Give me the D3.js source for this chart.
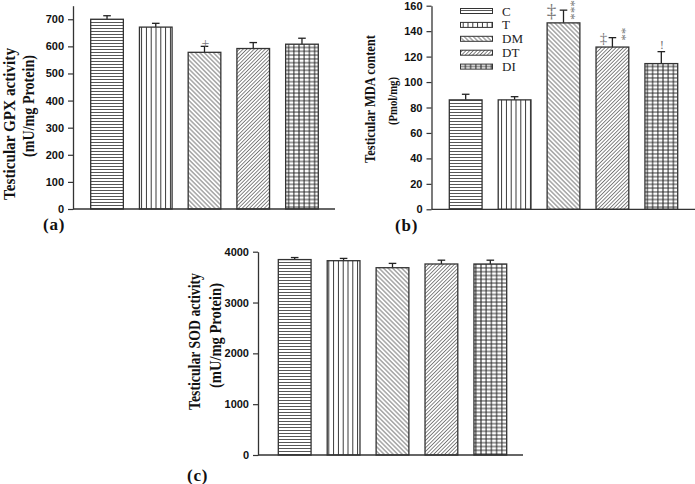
<!DOCTYPE html>
<html>
<head>
<meta charset="utf-8">
<title>Testicular GPX / MDA / SOD</title>
<style>
  body { margin: 0; background: #fff; }
  svg { display: block; }
</style>
</head>
<body>
<main></main>
<script src="https://cdn.jsdelivr.net/npm/d3@7"></script>
<script>
// groups
var groups = ["C", "T", "DM", "DT", "DI"];

// (a) GPX, mU/mg protein
var gpxMean = [700, 671, 578, 592, 608];
var gpxSem = [13, 14, 22, 22, 22];
var gpxTicks = [0, 100, 200, 300, 400, 500, 600, 700];

// (b) MDA, Pmol/mg
var mdaMean = [86, 86, 146.5, 127.5, 114.5];
var mdaSem = [4.4, 2.5, 10, 7.4, 9.4];
var mdaTicks = [0, 20, 40, 60, 80, 100, 120, 140, 160];

// (c) SOD, mU/mg protein
var sodMean = [3845, 3823, 3685, 3758, 3758];
var sodSem = [40, 45, 85, 75, 75];
var sodTicks = [0, 1000, 2000, 3000, 4000];

var width = 695, height = 484;
var svg = d3.select("main").append("svg")
    .attr("width", width).attr("height", height);

var serif = "'Liberation Serif', 'Times New Roman', serif";

// hatch patterns, one per group
var defs = svg.append("defs");
function pattern(id, w, h, rotate) {
    var p = defs.append("pattern")
        .attr("id", id)
        .attr("patternUnits", "userSpaceOnUse")
        .attr("width", w).attr("height", h);
    if (rotate) p.attr("patternTransform", "rotate(" + rotate + ")");
    return p;
}
pattern("pat-C", 10, 3).append("line")
    .attr("x1", 0).attr("x2", 10).attr("y1", 1.5).attr("y2", 1.5)
    .attr("stroke", "#444").attr("stroke-width", 0.9);
pattern("pat-T", 4.8, 10).append("line")
    .attr("x1", 2.4).attr("x2", 2.4).attr("y1", 0).attr("y2", 10)
    .attr("stroke", "#333").attr("stroke-width", 1);
pattern("pat-DM", 3.2, 10, -45).append("line")
    .attr("x1", 1.6).attr("x2", 1.6).attr("y1", 0).attr("y2", 10)
    .attr("stroke", "#444").attr("stroke-width", 0.8);
pattern("pat-DT", 2.6, 10, 45).append("line")
    .attr("x1", 1.3).attr("x2", 1.3).attr("y1", 0).attr("y2", 10)
    .attr("stroke", "#444").attr("stroke-width", 0.7);
var pdi = pattern("pat-DI", 5.2, 3.8);
pdi.append("line").attr("x1", 2.6).attr("x2", 2.6).attr("y1", 0).attr("y2", 3.8)
    .attr("stroke", "#222").attr("stroke-width", 1);
pdi.append("line").attr("x1", 0).attr("x2", 5.2).attr("y1", 1.9).attr("y2", 1.9)
    .attr("stroke", "#222").attr("stroke-width", 0.9);

function drawPanel(cfg) {
    var g = svg.append("g");

    var x = d3.scaleBand()
        .domain(groups)
        .range(cfg.bars)
        .paddingInner(0.33)
        .paddingOuter(0);

    var y = d3.scaleLinear()
        .domain([0, cfg.yMax])
        .range([cfg.y0, cfg.yTop]);

    // y axis
    var axis = d3.axisLeft(y)
        .tickValues(cfg.ticks)
        .tickFormat(d3.format("d"))
        .tickSize(5)
        .tickSizeOuter(0)
        .tickPadding(4);
    var ga = g.append("g")
        .attr("transform", "translate(" + cfg.axisX + ",0)")
        .call(axis);
    ga.select(".domain").attr("stroke", "#333").attr("stroke-width", 1.3);
    ga.selectAll(".tick line").attr("stroke", "#333").attr("stroke-width", 1.2);
    ga.selectAll(".tick text")
        .attr("fill", "#111")
        .attr("font-family", "'Liberation Sans', Arial, sans-serif")
        .attr("font-weight", "bold")
        .attr("font-size", 11);

    // x baseline
    g.append("line")
        .attr("x1", cfg.axisX).attr("x2", cfg.axisEnd)
        .attr("y1", y(0)).attr("y2", y(0))
        .attr("stroke", "#333").attr("stroke-width", 1.3);

    var data = groups.map(function (k, i) {
        return { key: k, mean: cfg.mean[i], sem: cfg.sem[i] };
    });

    // error bars (behind the bars)
    var eb = g.selectAll(".err").data(data).enter().append("g");
    eb.append("line")
        .attr("x1", function (d) { return x(d.key) + x.bandwidth() / 2; })
        .attr("x2", function (d) { return x(d.key) + x.bandwidth() / 2; })
        .attr("y1", function (d) { return y(d.mean); })
        .attr("y2", function (d) { return y(d.mean + d.sem); })
        .attr("stroke", "#222").attr("stroke-width", 1.3);
    eb.append("line")
        .attr("x1", function (d) { return x(d.key) + x.bandwidth() / 2 - 3.8; })
        .attr("x2", function (d) { return x(d.key) + x.bandwidth() / 2 + 3.8; })
        .attr("y1", function (d) { return y(d.mean + d.sem); })
        .attr("y2", function (d) { return y(d.mean + d.sem); })
        .attr("stroke", "#222").attr("stroke-width", 1.3);

    // bars
    g.selectAll(".bar").data(data).enter().append("rect")
        .attr("x", function (d) { return x(d.key); })
        .attr("y", function (d) { return y(d.mean); })
        .attr("width", x.bandwidth())
        .attr("height", function (d) { return y(0) - y(d.mean); })
        .attr("fill", function (d) { return "url(#pat-" + d.key + ")"; })
        .attr("stroke", "#333").attr("stroke-width", 1.3);

    // y title, two rotated lines
    cfg.title.forEach(function (t) {
        g.append("text")
            .attr("transform", "translate(" + t.x + "," + t.y + ") rotate(-90)")
            .attr("text-anchor", "middle")
            .attr("textLength", t.len)
            .attr("lengthAdjust", "spacingAndGlyphs")
            .attr("fill", "#111")
            .style("font-family", serif)
            .style("font-weight", "bold")
            .style("font-size", t.size + "px")
            .text(t.text);
    });

    // panel letter
    g.append("text")
        .attr("x", cfg.letter[0]).attr("y", cfg.letter[1])
        .attr("fill", "#111")
        .style("font-family", serif)
        .style("font-weight", "bold")
        .style("font-size", "17px")
        .style("letter-spacing", "0.8px")
        .text(cfg.letterText);

    return { x: x, y: y, g: g, data: data };
}

var pa = drawPanel({
    mean: gpxMean, sem: gpxSem, ticks: gpxTicks,
    yMax: 750, y0: 209, yTop: 5.7,
    axisX: 73, axisEnd: 335, bars: [90.7, 318.3],
    title: [
        { text: "Testicular GPX activity", x: 15, y: 124, len: 152, size: 17 },
        { text: "(mU/mg Protein)", x: 34, y: 106, len: 102, size: 17 }
    ],
    letter: [43, 230], letterText: "(a)"
});

var pb = drawPanel({
    mean: mdaMean, sem: mdaSem, ticks: mdaTicks,
    yMax: 160, y0: 209.3, yTop: 5.7,
    axisX: 431.5, axisEnd: 695, bars: [449.3, 677.7],
    title: [
        { text: "Testicular MDA content", x: 375, y: 99, len: 128, size: 15 },
        { text: "(Pmol/mg)", x: 396.5, y: 101, len: 48, size: 13 }
    ],
    letter: [395, 230.5], letterText: "(b)"
});

var pc = drawPanel({
    mean: sodMean, sem: sodSem, ticks: sodTicks,
    yMax: 4000, y0: 455, yTop: 251.7,
    axisX: 258, axisEnd: 523, bars: [278.3, 506.7],
    title: [
        { text: "Testicular SOD activity", x: 200, y: 341.5, len: 137, size: 16 },
        { text: "(mU/mg Protein)", x: 220.5, y: 335.5, len: 105, size: 16 }
    ],
    letter: [187, 481], letterText: "(c)"
});

// significance marks, placed relative to the top of each error bar
function mark(p, key, s, dx, dy, size) {
    var d = p.data[groups.indexOf(key)];
    p.g.append("text")
        .attr("x", p.x(key) + p.x.bandwidth() / 2 + dx)
        .attr("y", p.y(d.mean + d.sem) + dy)
        .attr("text-anchor", "middle")
        .attr("fill", "#777")
        .style("font-family", serif)
        .style("font-size", size + "px")
        .text(s);
}
// stacked asterisks: one string turned on its side
function stars(p, key, s, dx, dy, size) {
    var d = p.data[groups.indexOf(key)];
    var cx = p.x(key) + p.x.bandwidth() / 2 + dx;
    p.g.append("text")
        .attr("transform", "translate(" + (cx - size * 0.45) + "," +
            (p.y(d.mean + d.sem) + dy) + ") rotate(90)")
        .attr("fill", "#777")
        .style("font-family", serif)
        .style("font-size", size + "px")
        .style("letter-spacing", "0.4px")
        .text(s);
}
mark(pa, "DM", "+", 1, 2, 14);

mark(pb, "DM", "‡", -12, 7, 19);
stars(pb, "DM", "***", 9, -10, 12.5);
mark(pb, "DT", "‡", -9, 5, 15);
stars(pb, "DT", "**", 11.5, -10, 12.5);
mark(pb, "DI", "!", 0.5, -3, 13);

// legend in panel (b)
var legend = svg.append("g");
groups.forEach(function (k, i) {
    var ly = 11 + i * 13.9;
    legend.append("rect")
        .attr("x", 460.5).attr("y", ly - 2.5)
        .attr("width", 32).attr("height", 5)
        .attr("fill", "url(#pat-" + k + ")")
        .attr("stroke", "#333").attr("stroke-width", 1);
    legend.append("text")
        .attr("x", 502).attr("y", ly + 4.5)
        .attr("fill", "#222")
        .style("font-family", serif)
        .style("font-size", "13px")
        .text(k);
});
</script>
</body>
</html>
